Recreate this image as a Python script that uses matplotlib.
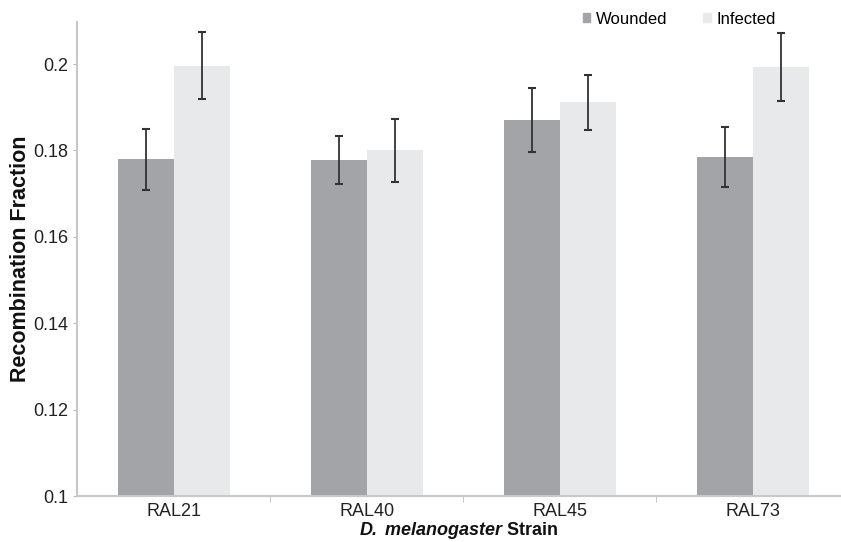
import matplotlib
matplotlib.use("Agg")
import matplotlib.pyplot as plt
from matplotlib.patches import Patch
import numpy as np

plt.rcParams['font.family'] = ['Liberation Sans', 'DejaVu Sans']
plt.rcParams['mathtext.fontset'] = 'custom'
plt.rcParams['mathtext.bfit'] = 'Liberation Sans:bold:italic'

# data
strains = ['RAL21', 'RAL40', 'RAL45', 'RAL73']
wounded = [0.1779, 0.1778, 0.1870, 0.1785]
wounded_err = [0.0070, 0.0055, 0.0074, 0.0070]
infected = [0.1996, 0.1800, 0.1911, 0.1993]
infected_err = [0.0077, 0.0073, 0.0064, 0.0078]
yticks = [0.1, 0.12, 0.14, 0.16, 0.18, 0.2]
ytick_labels = ['0.1', '0.12', '0.14', '0.16', '0.18', '0.2']

fig = plt.figure(figsize=(8.41, 5.42), dpi=100)
ax = fig.add_axes([77 / 841, 46 / 542, 764 / 841, 474 / 542])

x = np.arange(len(strains))
w = 0.29
err_kw = dict(ecolor='#333333', elinewidth=1.3, capsize=3, capthick=1.5)
ax.bar(x - w / 2, wounded, w, color='#a3a4a8', yerr=wounded_err,
       error_kw=err_kw, zorder=2)
ax.bar(x + w / 2, infected, w, color='#e8e9eb', yerr=infected_err,
       error_kw=err_kw, zorder=2)

ax.set_xlim(-0.5, 3.456)
ax.set_ylim(0.1, 0.1 + 474 / 4320)

ax.set_yticks(yticks)
ax.set_yticklabels(ytick_labels, fontsize=13, color='#222222')
ax.set_xticks(x)
ax.set_xticklabels(strains, fontsize=13, color='#222222')
ax.tick_params(axis='x', which='major', length=0, pad=5)
ax.set_xticks(x[:-1] + 0.5, minor=True)
ax.tick_params(axis='x', which='minor', length=4, color='#bbbbbb')
ax.tick_params(axis='y', length=3, color='#bbbbbb', pad=3)

for s in ['top', 'right']:
    ax.spines[s].set_visible(False)
for s in ['left', 'bottom']:
    ax.spines[s].set_color('#c8c8c8')
    ax.spines[s].set_linewidth(1.5)

ax.set_ylabel('Recombination Fraction', fontsize=15.5, fontweight='bold',
              color='#111111', labelpad=2)
ax.set_xlabel(r'$\mathbfit{D.\:melanogaster}$ Strain', fontsize=13,
              fontweight='bold', color='#111111', labelpad=0)

handles = [Patch(color='#a3a4a8', label='Wounded'),
           Patch(color='#e8e9eb', label='Infected')]
ax.legend(handles=handles, loc='upper right', bbox_to_anchor=(786 / 841, 0.997),
          bbox_transform=fig.transFigure, ncol=2, frameon=False, fontsize=12,
          handlelength=0.45, handleheight=0.45, handletextpad=0.35,
          columnspacing=2.15, borderaxespad=0.2)

plt.savefig('out.png', dpi=100)
